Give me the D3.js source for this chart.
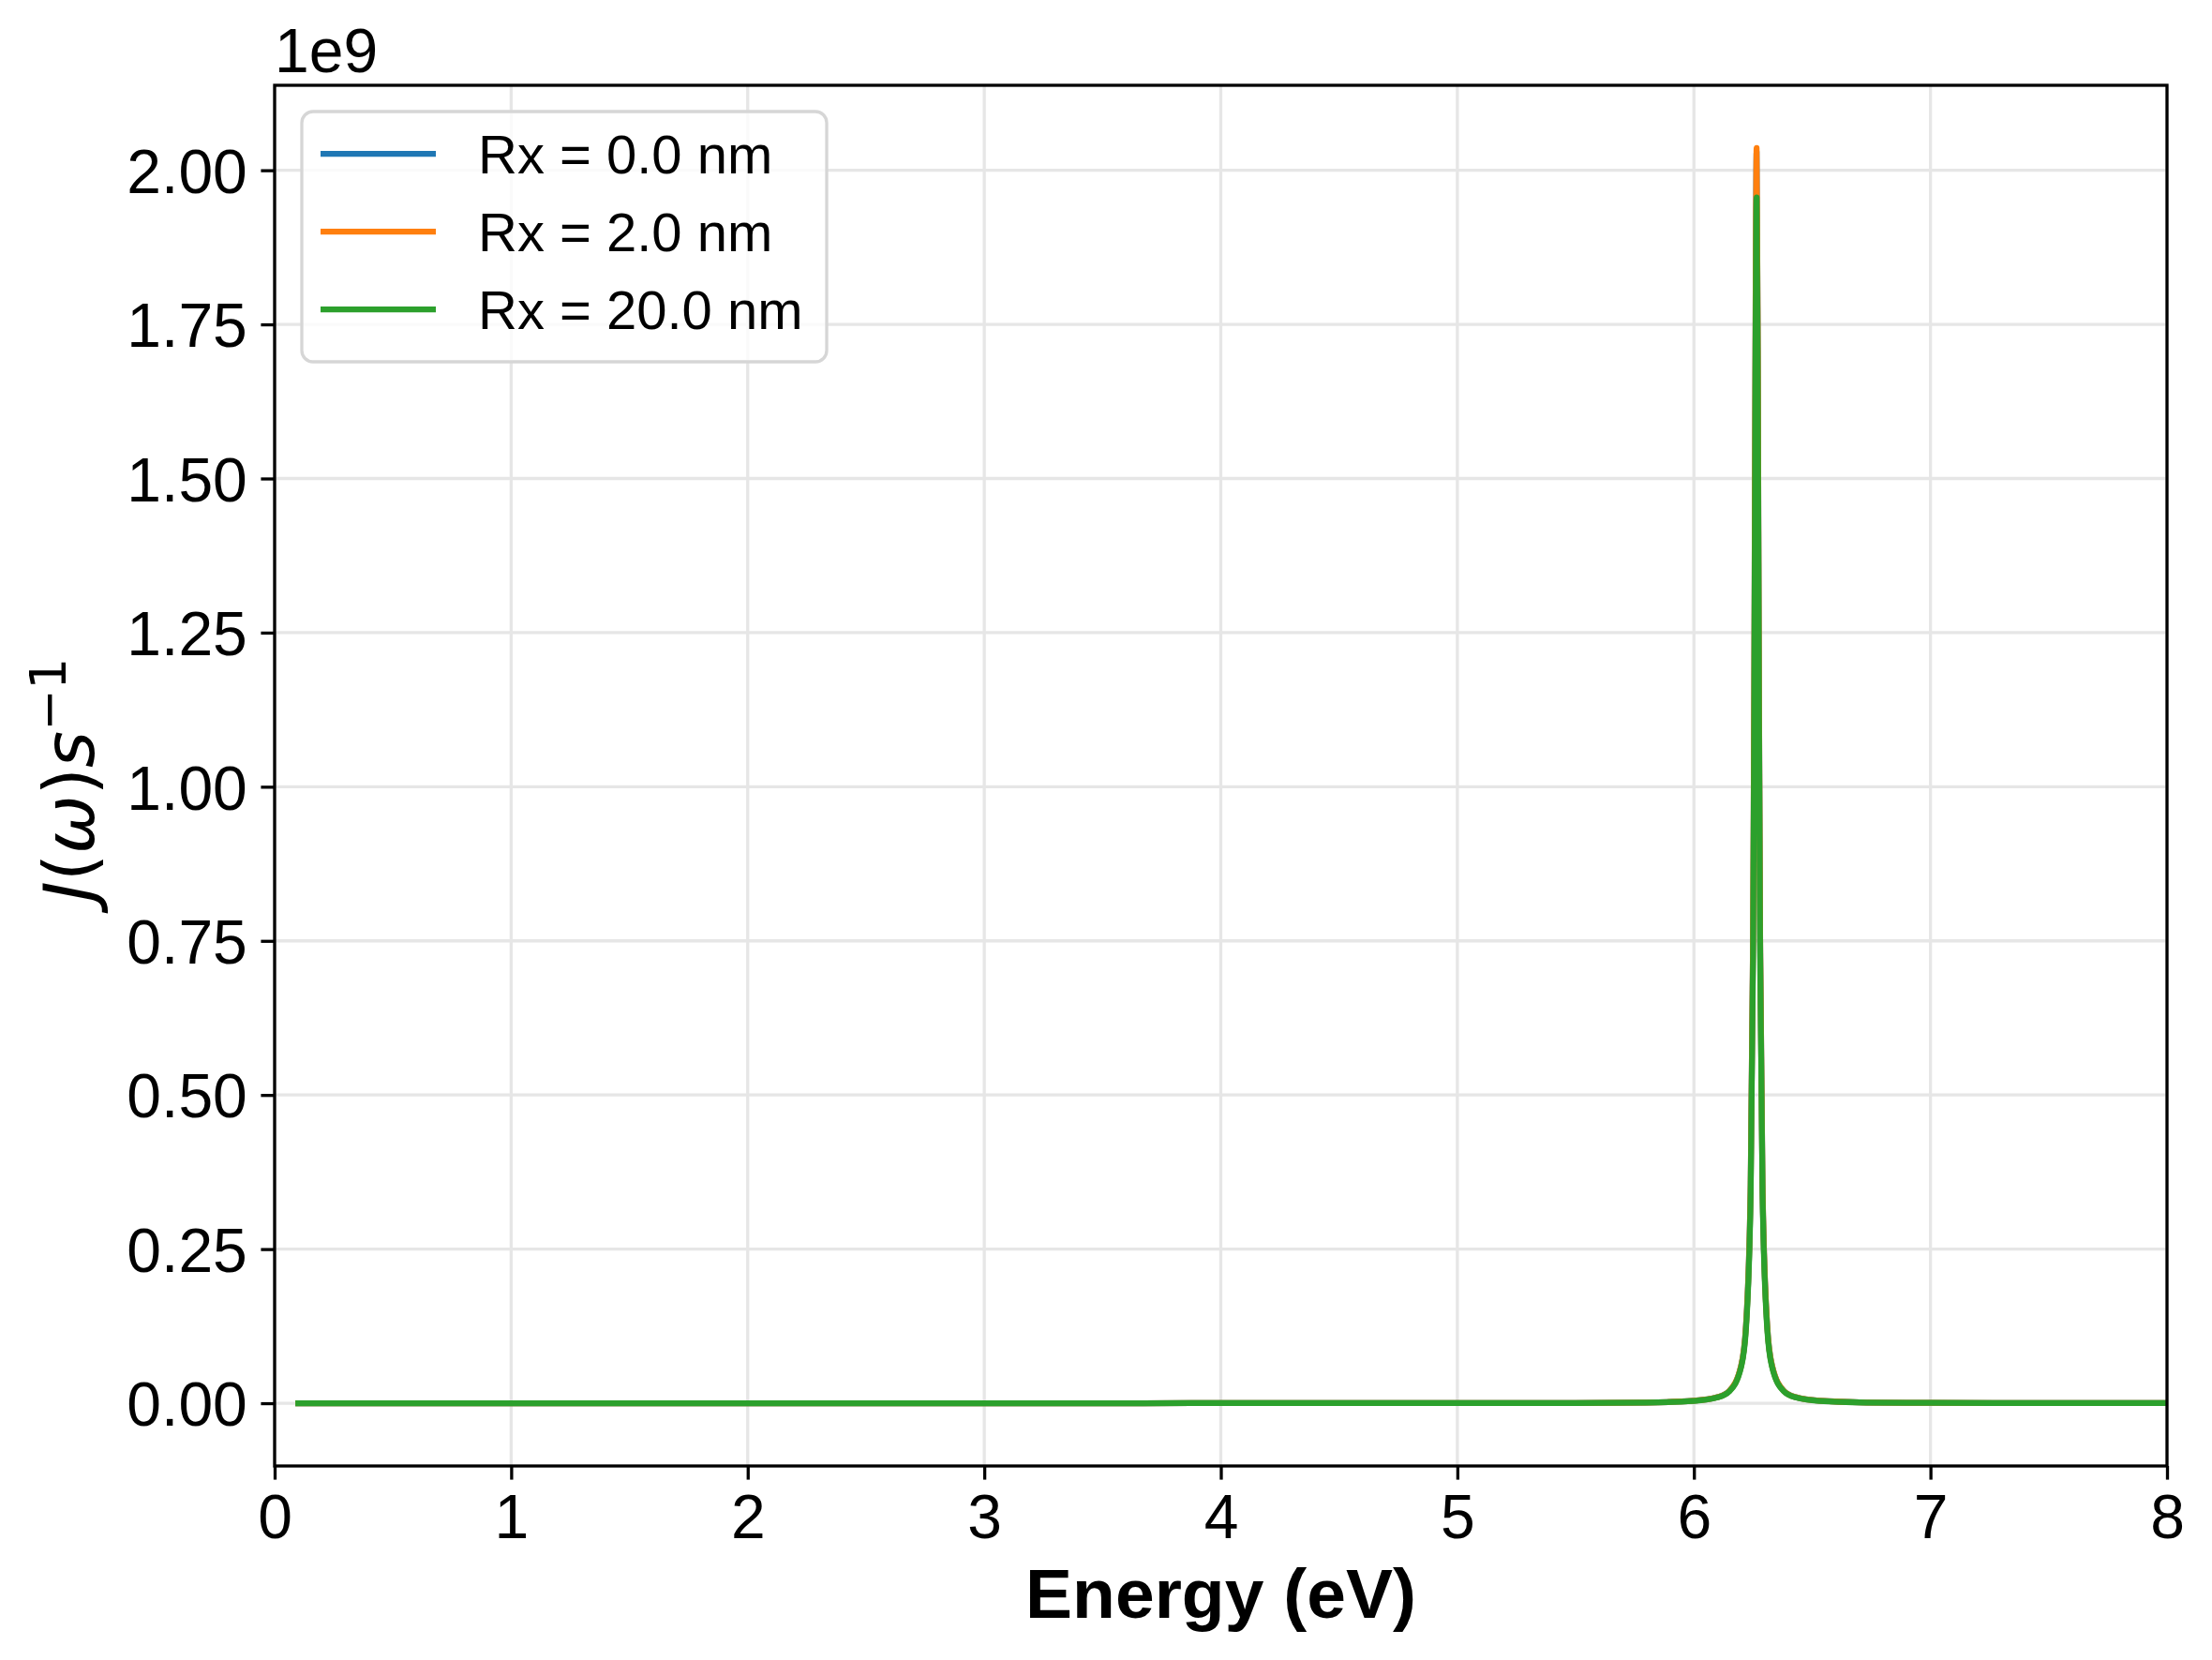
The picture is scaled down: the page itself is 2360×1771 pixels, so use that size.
<!DOCTYPE html>
<html>
<head>
<meta charset="utf-8">
<script src="https://cdn.jsdelivr.net/npm/d3@7"></script>
<style>
	body { margin: 0; background: #fff; }
	svg { display: block; }
</style>
</head>
<body>
<svg id="spectrum" width="2360" height="1771" viewBox="0 0 2360 1771"></svg>
<script>

// energy grid (eV), denser around the resonance
const energy = [0.1, 1, 2, 3, 4, 5, 5.5, 5.8, 6.0, 6.1, 6.15, 6.2, 6.22, 6.24, 6.25, 6.255, 6.26, 6.265,
	6.27, 6.275, 6.28, 6.29, 6.31, 6.33, 6.38, 6.43, 6.53, 6.73, 7.0, 7.5, 8.0];

// J(w) in units of 1e9 s^-1
const j_rx0 = [0, 0, 0, 0, 0.0001, 0.0002, 0.0004, 0.0012, 0.0039, 0.0098, 0.0200, 0.0615, 0.125, 0.354, 0.751, 1.156, 1.706, 2.030,
	1.706, 1.156, 0.751, 0.354, 0.125, 0.0615, 0.0200, 0.0098, 0.0039, 0.0012, 0.0005, 0.0002, 0.0001];
const j_rx2 = [0, 0, 0, 0, 0.0001, 0.0002, 0.0004, 0.0012, 0.0039, 0.0098, 0.0201, 0.0617, 0.125, 0.355, 0.753, 1.159, 1.711, 2.036,
	1.711, 1.159, 0.753, 0.355, 0.125, 0.0617, 0.0201, 0.0098, 0.0039, 0.0012, 0.0005, 0.0002, 0.0001];
const j_rx20 = [0, 0, 0, 0, 0.0001, 0.0002, 0.0004, 0.0012, 0.0037, 0.0094, 0.0193, 0.0593, 0.120, 0.341, 0.723, 1.113, 1.644, 1.956,
	1.644, 1.113, 0.723, 0.341, 0.120, 0.0593, 0.0193, 0.0094, 0.0037, 0.0012, 0.0005, 0.0002, 0.0001];

const series_labels = ["Rx = 0.0 nm", "Rx = 2.0 nm", "Rx = 20.0 nm"];
const series_colors = ["#1f77b4", "#ff7f0e", "#2ca02c"];

const x_ticks = [0, 1, 2, 3, 4, 5, 6, 7, 8];
const y_ticks = [0, 0.25, 0.5, 0.75, 1.0, 1.25, 1.5, 1.75, 2.0];

const FONT = "'Liberation Sans', Arial, sans-serif";

function drawChart() {
	const svg = d3.select("#spectrum");
	const plot = {left: 293, right: 2312, top: 91, bottom: 1564};

	const x = d3.scaleLinear().domain([0, 8]).range([plot.left, plot.right]);
	// matplotlib style 5% margins around [0, max]
	const y_max = d3.max(j_rx2);
	const pad = 0.05 * y_max;
	const y = d3.scaleLinear().domain([-pad, y_max + pad]).range([plot.bottom, plot.top]);

	// grid
	const grid = svg.append("g").attr("class", "grid");
	grid.selectAll(".vgrid")
		.data(x_ticks)
		.enter().append("line")
		.attr("x1", d => x(d)).attr("x2", d => x(d))
		.attr("y1", plot.top).attr("y2", plot.bottom)
		.attr("stroke", "#e6e6e6").attr("stroke-width", 3.3);
	grid.selectAll(".hgrid")
		.data(y_ticks)
		.enter().append("line")
		.attr("y1", d => y(d)).attr("y2", d => y(d))
		.attr("x1", plot.left).attr("x2", plot.right)
		.attr("stroke", "#e6e6e6").attr("stroke-width", 3.3);

	// curves
	const all_series = [j_rx0, j_rx2, j_rx20];
	svg.append("clipPath").attr("id", "plot-clip")
		.append("rect")
		.attr("x", plot.left).attr("y", plot.top)
		.attr("width", plot.right - plot.left).attr("height", plot.bottom - plot.top);

	const line = d3.line()
		.x(d => x(d[0]))
		.y(d => y(d[1]))
		.curve(d3.curveMonotoneX);

	svg.append("g").attr("clip-path", "url(#plot-clip)")
		.selectAll("path")
		.data(all_series)
		.enter().append("path")
		.attr("d", vals => line(energy.map((e, i) => [e, vals[i]])))
		.attr("fill", "none")
		.attr("stroke", (d, i) => series_colors[i])
		.attr("stroke-width", 6.25)
		.attr("stroke-linejoin", "round")
		.attr("stroke-linecap", "square");

	// axes
	const x_axis = d3.axisBottom(x).tickValues(x_ticks).tickFormat(d3.format("d"))
		.tickSize(14.6).tickPadding(14.6);
	const y_axis = d3.axisLeft(y).tickValues(y_ticks).tickFormat(d3.format(".2f"))
		.tickSize(14.6).tickPadding(14.6);

	const gx = svg.append("g")
		.attr("transform", "translate(0," + plot.bottom + ")")
		.call(x_axis);
	const gy = svg.append("g")
		.attr("transform", "translate(" + plot.left + ",0)")
		.call(y_axis);

	[gx, gy].forEach(g => {
		g.select(".domain").remove();
		g.selectAll(".tick line").attr("stroke", "#000").attr("stroke-width", 3.3);
		g.selectAll(".tick text")
			.attr("fill", "#000")
			.style("font-family", FONT)
			.style("font-size", "66px");
	});
	gx.selectAll(".tick text").attr("dy", "0.72em");
	gy.selectAll(".tick text").attr("dy", "0.36em");

	// spines
	svg.append("rect")
		.attr("x", plot.left).attr("y", plot.top)
		.attr("width", plot.right - plot.left).attr("height", plot.bottom - plot.top)
		.attr("fill", "none")
		.attr("stroke", "#000")
		.attr("stroke-width", 3.3);

	// offset text
	svg.append("text")
		.attr("x", plot.left).attr("y", 77)
		.style("font-family", FONT).style("font-size", "66px")
		.text("1e9");

	// axis labels
	svg.append("text")
		.attr("x", (plot.left + plot.right) / 2).attr("y", 1726)
		.attr("text-anchor", "middle")
		.style("font-family", FONT).style("font-size", "75px").style("font-weight", "bold")
		.text("Energy (eV)");

	const ylab = svg.append("text")
		.attr("transform", "translate(100,832) rotate(-90)")
		.attr("text-anchor", "middle")
		.style("font-family", "'DejaVu Sans', sans-serif").style("font-size", "75px");
	ylab.append("tspan").style("font-style", "italic").text("J");
	ylab.append("tspan").text("(");
	ylab.append("tspan").style("font-style", "italic").text("ω");
	ylab.append("tspan").text(")");
	ylab.append("tspan").style("font-style", "italic").text("s");
	ylab.append("tspan").attr("dy", -30).style("font-size", "53px").text("−1");

	// legend
	const legend = svg.append("g");
	legend.append("rect")
		.attr("x", 322).attr("y", 119)
		.attr("width", 560).attr("height", 267)
		.attr("rx", 12).attr("ry", 12)
		.attr("fill", "#fff").attr("fill-opacity", 0.8)
		.attr("stroke", "#d6d6d6").attr("stroke-width", 3.3);

	const items = legend.selectAll(".item")
		.data(series_labels)
		.enter().append("g")
		.attr("transform", (d, i) => "translate(0," + (164 + i * 83) + ")");
	items.append("line")
		.attr("x1", 342).attr("x2", 465)
		.attr("stroke", (d, i) => series_colors[i])
		.attr("stroke-width", 6.25);
	items.append("text")
		.attr("x", 510).attr("dy", 21)
		.style("font-family", FONT).style("font-size", "58px")
		.text(d => d);
}

drawChart();
</script>
</body>
</html>
